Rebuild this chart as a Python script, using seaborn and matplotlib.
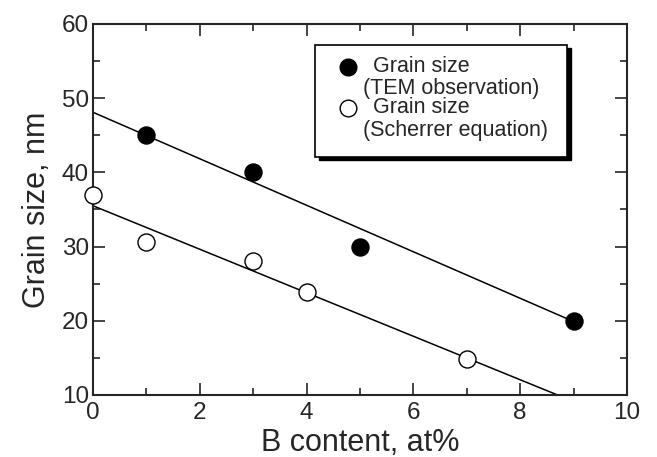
import numpy as np
import pandas as pd
import matplotlib
matplotlib.use('Agg')
import matplotlib.pyplot as plt
import seaborn as sns
from matplotlib.patches import Rectangle
from matplotlib.ticker import MultipleLocator

# grain size data
tem_b = [1, 3, 5, 9]
tem_size = [45, 40, 30, 20]
sch_b = [0, 1, 3, 4, 7]
sch_size = [37, 30.6, 28, 23.9, 14.9]
# fitted lines (end points)
tem_fit_b = [0, 9]
tem_fit_size = [48.1, 19.9]
sch_fit_b = [0, 8.7]
sch_fit_size = [35.5, 10]

sns.set_style('ticks')
plt.rcParams['font.family'] = ['Liberation Sans', 'DejaVu Sans']

fig = plt.figure(figsize=(6.57, 4.57), dpi=100)
ax = fig.add_axes([0.1416, 0.1357, 0.8127, 0.8118])

tem = pd.DataFrame({'b': tem_b, 'size': tem_size})
sch = pd.DataFrame({'b': sch_b, 'size': sch_size})

sns.lineplot(x=tem_fit_b, y=tem_fit_size, color='black', lw=1.1, ax=ax)
sns.lineplot(x=sch_fit_b, y=sch_fit_size, color='black', lw=1.1, ax=ax)
sns.scatterplot(data=tem, x='b', y='size', s=150, color='black',
                edgecolor='black', linewidth=1, ax=ax, zorder=5, clip_on=False)
sns.scatterplot(data=sch, x='b', y='size', s=150, color='white',
                edgecolor='black', linewidth=1, ax=ax, zorder=5, clip_on=False)

ax.set_xlim(0, 10)
ax.set_ylim(10, 60)
ax.xaxis.set_major_locator(MultipleLocator(2))
ax.xaxis.set_minor_locator(MultipleLocator(1))
ax.yaxis.set_major_locator(MultipleLocator(10))
ax.yaxis.set_minor_locator(MultipleLocator(5))
ax.tick_params(which='both', direction='in', top=True, right=True, width=1.2,
               labelsize=17.5)
ax.tick_params(axis='x', pad=5)
ax.tick_params(axis='y', pad=3)
ax.tick_params(which='major', length=8.5)
ax.tick_params(which='minor', length=5)
for s in ax.spines.values():
    s.set_linewidth(1.5)

ax.set_xlabel('B content, at%', fontsize=22, labelpad=3)
ax.set_ylabel('Grain size, nm', fontsize=22, labelpad=7)

# legend box with shadow
ax.add_patch(Rectangle((0.423, 0.634), 0.472, 0.301, transform=ax.transAxes,
                       facecolor='black', edgecolor='black', zorder=6))
ax.add_patch(Rectangle((0.416, 0.642), 0.472, 0.301, transform=ax.transAxes,
                       facecolor='white', edgecolor='black', lw=1.2, zorder=7))
ax.plot([0.478], [0.885], 'o', ms=12, mfc='black', mec='black',
        transform=ax.transAxes, zorder=8)
ax.plot([0.478], [0.774], 'o', ms=12, mfc='white', mec='black', mew=1,
        transform=ax.transAxes, zorder=8)
ax.text(0.524, 0.885, 'Grain size', fontsize=15.5, va='center', transform=ax.transAxes, zorder=8)
ax.text(0.506, 0.827, '(TEM observation)', fontsize=15.5, va='center', transform=ax.transAxes, zorder=8)
ax.text(0.524, 0.774, 'Grain size', fontsize=15.5, va='center', transform=ax.transAxes, zorder=8)
ax.text(0.506, 0.714, '(Scherrer equation)', fontsize=15.5, va='center', transform=ax.transAxes, zorder=8)

fig.savefig('out.png', dpi=100)
